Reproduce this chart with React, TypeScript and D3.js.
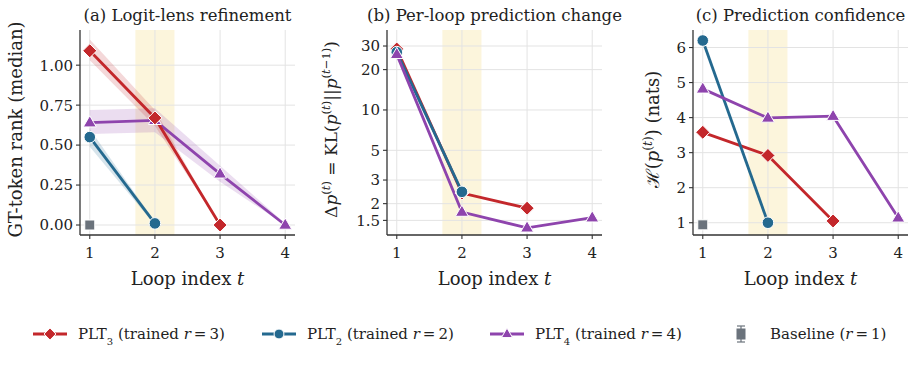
import * as d3 from "d3";

const LOOPS = [1, 2, 3, 4];
const HIGHLIGHT = [1.7, 2.3];

// (a) median GT-token rank, with CI band bounds
const rankPLT3 = [1.09, 0.67, 0.0];
const rankPLT3Lo = [1.03, 0.62, 0.0];
const rankPLT3Hi = [1.16, 0.72, 0.0];
const rankPLT2 = [0.55, 0.01];
const rankPLT2Lo = [0.49, 0.0];
const rankPLT2Hi = [0.6, 0.02];
const rankPLT4 = [0.64, 0.655, 0.32, 0.0];
const rankPLT4Lo = [0.57, 0.58, 0.27, 0.0];
const rankPLT4Hi = [0.72, 0.73, 0.37, 0.01];
const rankBaseline = [0.0];

// (b) KL between consecutive loops
const klPLT3 = [28.5, 2.4, 1.85];
const klPLT2 = [27, 2.45];
const klPLT4 = [26, 1.73, 1.32, 1.57];

// (c) entropy of the prediction
const entPLT3 = [3.58, 2.92, 1.05];
const entPLT2 = [6.2, 1.0];
const entPLT4 = [4.82, 3.99, 4.04, 1.14];
const entBaseline = [0.94];

const rankTicks = [0, 0.25, 0.5, 0.75, 1.0];
const klTicks = [1.5, 2, 3, 5, 10, 20, 30];
const entTicks = [1, 2, 3, 4, 5, 6];

const RED = "#c3272b";
const BLUE = "#24698f";
const PURPLE = "#8e44ad";
const GRAY = "#6b737c";
const FONT = "DejaVu Serif";
const THIN = "\u2009";

type Marker = "diamond" | "circle" | "triangle" | "square";

const markerPath = (m: Marker, s = 1) => {
  if (m === "diamond") {
    const r = 7 * s;
    return `M0,${-r}L${r},0L0,${r}L${-r},0Z`;
  }
  if (m === "triangle") {
    const r = 7 * s;
    return `M0,${-r}L${r * 0.93},${r * 0.6}L${-r * 0.93},${r * 0.6}Z`;
  }
  if (m === "square") {
    const r = 5 * s;
    return `M${-r},${-r}H${r}V${r}H${-r}Z`;
  }
  return d3.symbol(d3.symbolCircle, Math.PI * 5.8 * 5.8 * s * s)() as string;
};

type Series = {
  values: number[];
  lo?: number[];
  hi?: number[];
  color: string;
  marker: Marker;
  line?: boolean;
};

type PanelProps = {
  left: number;
  title: string;
  yScale: d3.ScaleContinuousNumeric<number, number>;
  yTicks: number[];
  yFormat: (v: number) => string;
  series: Series[];
  yLabel: React.ReactNode;
  yLabelX: number;
  yLabelSize?: number;
};

const TOP = 30;
const BOTTOM = 235;
const WIDTH = 215;

const Panel = ({ left, title, yScale, yTicks, yFormat, series, yLabel, yLabelX, yLabelSize = 18 }: PanelProps) => {
  const x = d3.scaleLinear().domain([0.85, 4.15]).range([left, left + WIDTH]);
  const line = d3
    .line<number>()
    .x((_, i) => x(LOOPS[i]))
    .y((d) => yScale(d));
  const area = (lo: number[], hi: number[]) =>
    d3
      .area<number>()
      .x((_, i) => x(LOOPS[i]))
      .y0((_, i) => yScale(lo[i]))
      .y1((_, i) => yScale(hi[i]))(lo) as string;

  return (
    <g fontFamily={FONT}>
      <rect
        x={x(HIGHLIGHT[0])}
        y={TOP}
        width={x(HIGHLIGHT[1]) - x(HIGHLIGHT[0])}
        height={BOTTOM - TOP}
        fill="#fcf3d6"
        opacity={0.85}
      />
      {LOOPS.map((t) => (
        <line key={"gx" + t} x1={x(t)} x2={x(t)} y1={TOP} y2={BOTTOM} stroke="#e3e3e3" strokeWidth={1} />
      ))}
      {yTicks.map((v) => (
        <line key={"gy" + v} x1={left} x2={left + WIDTH} y1={yScale(v)} y2={yScale(v)} stroke="#e3e3e3" strokeWidth={1} />
      ))}
      {series.map((s, k) =>
        s.lo && s.hi ? <path key={"band" + k} d={area(s.lo, s.hi)} fill={s.color} opacity={0.18} /> : null
      )}
      {series.map((s, k) =>
        s.line === false ? null : (
          <path key={"line" + k} d={line(s.values) as string} fill="none" stroke={s.color} strokeWidth={2.8} />
        )
      )}
      {series.map((s, k) =>
        s.values.map((v, i) => (
          <path
            key={"m" + k + "-" + i}
            d={markerPath(s.marker)}
            transform={`translate(${x(LOOPS[i])},${yScale(v)})`}
            fill={s.color}
            stroke="#fff"
            strokeWidth={1}
          />
        ))
      )}
      {/* spines */}
      <line x1={left} x2={left} y1={TOP} y2={BOTTOM} stroke="#333" strokeWidth={1.3} />
      <line x1={left} x2={left + WIDTH} y1={BOTTOM} y2={BOTTOM} stroke="#333" strokeWidth={1.3} />
      {yTicks.map((v) => (
        <g key={"ty" + v}>
          <line x1={left - 4} x2={left} y1={yScale(v)} y2={yScale(v)} stroke="#333" strokeWidth={1.1} />
          <text x={left - 7} y={yScale(v)} dy="0.36em" textAnchor="end" fontSize={15} fill="#222">
            {yFormat(v)}
          </text>
        </g>
      ))}
      {LOOPS.map((t) => (
        <g key={"tx" + t}>
          <line x1={x(t)} x2={x(t)} y1={BOTTOM} y2={BOTTOM + 4} stroke="#333" strokeWidth={1.1} />
          <text x={x(t)} y={BOTTOM + 23} textAnchor="middle" fontSize={15} fill="#222">
            {t}
          </text>
        </g>
      ))}
      <text x={left + WIDTH / 2} y={20.5} textAnchor="middle" fontSize={16.5} fill="#222">
        {title}
      </text>
      <text x={left + WIDTH / 2} y={285} textAnchor="middle" fontSize={18} fill="#222">
        Loop index <tspan fontStyle="italic">t</tspan>
      </text>
      <text
        transform={`translate(${yLabelX},${(TOP + BOTTOM) / 2 - 3}) rotate(-90)`}
        textAnchor="middle"
        fontSize={yLabelSize}
        fill="#222"
      >
        {yLabel}
      </text>
    </g>
  );
};

// superscript "(t)" / "(t−1)" with italic t
const Sup = ({ minus }: { minus?: boolean }) => (
  <tspan baselineShift="super" fontSize="0.68em">
    (<tspan fontStyle="italic">t</tspan>
    {minus ? "−1)" : ")"}
  </tspan>
);

const LegendItem = ({ x, label, color, marker, sub, r }: { x: number; label: string; color: string; marker: Marker; sub: string; r: string }) => (
  <g>
    <line x1={x} x2={x + 34} y1={334} y2={334} stroke={color} strokeWidth={2.8} />
    <path d={markerPath(marker, 0.85)} transform={`translate(${x + 17},334)`} fill={color} stroke="#fff" strokeWidth={1} />
    <text x={x + 45} y={334} dy="0.36em" fontSize={15} fill="#222" fontFamily={FONT}>
      {label}
      <tspan baselineShift="sub" fontSize={10}>
        {sub}
      </tspan>
      {" (trained "}
      <tspan fontStyle="italic">r</tspan>
      {THIN + "=" + THIN + r + ")"}
    </text>
  </g>
);

export default function App() {
  const yRank = d3.scaleLinear().domain([-0.0625, 1.22]).range([BOTTOM, TOP]);
  const yKL = d3.scaleLog().domain([1.167, 39.5]).range([BOTTOM, TOP]);
  const yEnt = d3.scaleLinear().domain([0.65, 6.5]).range([BOTTOM, TOP]);

  return (
    <svg width={916} height={375} style={{ position: "absolute", left: 0, top: 0, background: "#fff" }}>
      <Panel
        left={80}
        title="(a) Logit-lens refinement"
        yScale={yRank}
        yTicks={rankTicks}
        yFormat={d3.format(".2f")}
        yLabelX={22}
        yLabel="GT-token rank (median)"
        series={[
          { values: rankPLT4, lo: rankPLT4Lo, hi: rankPLT4Hi, color: PURPLE, marker: "triangle" },
          { values: rankPLT3, lo: rankPLT3Lo, hi: rankPLT3Hi, color: RED, marker: "diamond" },
          { values: rankPLT2, lo: rankPLT2Lo, hi: rankPLT2Hi, color: BLUE, marker: "circle" },
          { values: rankBaseline, color: GRAY, marker: "square", line: false },
        ]}
      />
      <Panel
        left={387}
        title="(b) Per-loop prediction change"
        yScale={yKL}
        yTicks={klTicks}
        yFormat={(v) => String(v)}
        yLabelX={337}
        yLabelSize={17}
        yLabel={
          <>
            Δ<tspan fontStyle="italic">p</tspan>
            <Sup />
            {" = KL("}
            <tspan fontStyle="italic">p</tspan>
            <Sup />
            {"||"}
            <tspan fontStyle="italic">p</tspan>
            <Sup minus />)
          </>
        }
        series={[
          { values: klPLT3, color: RED, marker: "diamond" },
          { values: klPLT2, color: BLUE, marker: "circle" },
          { values: klPLT4, color: PURPLE, marker: "triangle" },
        ]}
      />
      <Panel
        left={693}
        title="(c) Prediction confidence"
        yScale={yEnt}
        yTicks={entTicks}
        yFormat={(v) => String(v)}
        yLabelX={659}
        yLabel={
          <>
            ℋ(<tspan fontStyle="italic">p</tspan>
            <Sup />) (nats)
          </>
        }
        series={[
          { values: entPLT3, color: RED, marker: "diamond" },
          { values: entPLT2, color: BLUE, marker: "circle" },
          { values: entPLT4, color: PURPLE, marker: "triangle" },
          { values: entBaseline, color: GRAY, marker: "square", line: false },
        ]}
      />
      <LegendItem x={33} label="PLT" sub="3" r="3" color={RED} marker="diamond" />
      <LegendItem x={262} label="PLT" sub="2" r="2" color={BLUE} marker="circle" />
      <LegendItem x={490} label="PLT" sub="4" r="4" color={PURPLE} marker="triangle" />
      <g>
        <line x1={741} x2={741} y1={326} y2={342} stroke={GRAY} strokeWidth={1.2} />
        <line x1={737} x2={745} y1={326} y2={326} stroke={GRAY} strokeWidth={1.2} />
        <line x1={737} x2={745} y1={342} y2={342} stroke={GRAY} strokeWidth={1.2} />
        <rect x={736.5} y={328.5} width={9} height={11} fill={GRAY} />
        <text x={770} y={334} dy="0.36em" fontSize={15} fill="#222" fontFamily={FONT}>
          Baseline (<tspan fontStyle="italic">r</tspan>
          {THIN + "=" + THIN + "1)"}
        </text>
      </g>
    </svg>
  );
}
